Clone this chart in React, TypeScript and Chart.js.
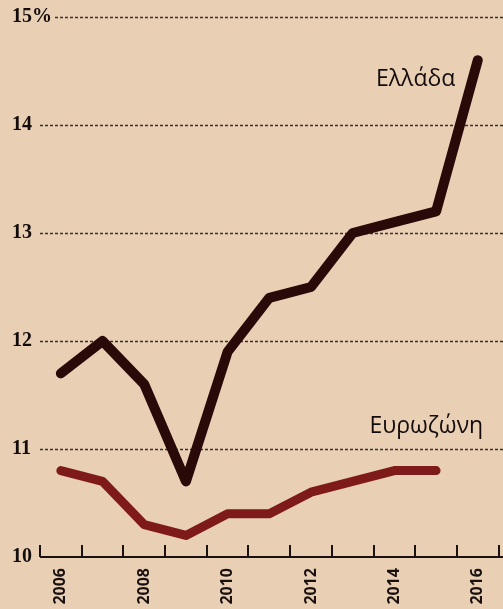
import React, { useEffect, useRef } from "react";
import { Chart, registerables } from "chart.js";

Chart.register(...registerables);

const years = ["2006", "2007", "2008", "2009", "2010", "2011", "2012", "2013", "2014", "2015", "2016"];
const greece = [11.7, 12.0, 11.6, 10.7, 11.9, 12.4, 12.5, 13.0, 13.1, 13.2, 14.6];
const eurozone = [10.8, 10.7, 10.3, 10.2, 10.4, 10.4, 10.6, 10.7, 10.8, 10.8, null];
const yTicks = [10, 11, 12, 13, 14, 15];
const greeceLabel = "Ελλάδα";
const eurozoneLabel = "Ευρωζώνη";

const BG = "#e9d0b5";

const decorPlugin = {
  id: "decor",
  beforeDatasetsDraw(chart: any) {
    const { ctx, chartArea, scales } = chart;
    const y = scales.y;
    ctx.save();
    ctx.strokeStyle = "#3b2f2c";
    ctx.lineWidth = 1.5;
    ctx.setLineDash([3, 2]);
    yTicks.forEach((v) => {
      if (v === 10) return;
      const py = Math.round(y.getPixelForValue(v)) + 0.5;
      const x0 = v === 15 ? chartArea.left + 15 : chartArea.left;
      ctx.beginPath();
      ctx.moveTo(x0, py);
      ctx.lineTo(chart.width, py);
      ctx.stroke();
    });
    ctx.restore();
  },
  afterDraw(chart: any) {
    const { ctx, chartArea, scales } = chart;
    const x = scales.x;
    const y = scales.y;
    ctx.save();
    ctx.strokeStyle = "#1a1010";
    ctx.lineWidth = 2;
    ctx.beginPath();
    ctx.moveTo(chartArea.left, chartArea.bottom);
    ctx.lineTo(chart.width, chartArea.bottom);
    ctx.stroke();
    for (let i = 0; i <= years.length; i++) {
      const px = Math.round(x.getPixelForValue(i - 0.5));
      ctx.beginPath();
      ctx.moveTo(px, chartArea.bottom);
      ctx.lineTo(px, chartArea.bottom - 12);
      ctx.stroke();
    }
    ctx.fillStyle = "#140c0c";
    ctx.font = "23px 'Open Sans', sans-serif";
    ctx.textAlign = "right";
    ctx.textBaseline = "middle";
    ctx.fillText(greeceLabel, x.getPixelForValue(9.46), y.getPixelForValue(14.42));
    ctx.fillText(eurozoneLabel, x.getPixelForValue(10.13), y.getPixelForValue(11.21));
    ctx.restore();
  },
};

export default function App() {
  const ref = useRef<HTMLCanvasElement | null>(null);
  useEffect(() => {
    if (!ref.current) return;
    const chart = new Chart(ref.current, {
      type: "line",
      data: {
        labels: years,
        datasets: [
          {
            label: eurozoneLabel,
            data: eurozone,
            borderColor: "#7e1a1a",
            borderWidth: 9,
            pointRadius: 0,
            borderCapStyle: "round",
            borderJoinStyle: "round",
            tension: 0,
            spanGaps: false,
          },
          {
            label: greeceLabel,
            data: greece,
            borderColor: "#2a0909",
            borderWidth: 10,
            pointRadius: 0,
            borderCapStyle: "round",
            borderJoinStyle: "round",
            tension: 0,
          },
        ],
      },
      options: {
        responsive: false,
        animation: false,
        layout: { padding: { left: 12, top: 17, right: 0, bottom: 0 } },
        plugins: {
          legend: { display: false },
          tooltip: { enabled: false },
        },
        scales: {
          x: {
            type: "category",
            offset: true,
            grid: { display: false, drawTicks: false },
            border: { display: false },
            ticks: {
              autoSkip: false,
              maxRotation: 90,
              minRotation: 90,
              padding: 11,
              color: "#1a1010",
              font: { family: "'Open Sans', sans-serif", weight: "bold", size: 16 },
              callback: (_v: any, i: number) => (i % 2 === 0 ? years[i] : ""),
            },
            afterFit: (scale: any) => {
              scale.height = 52;
            },
          },
          y: {
            min: 10,
            max: 15,
            grid: { display: false, drawTicks: false },
            border: { display: false },
            afterBuildTicks: (scale: any) => {
              scale.ticks = yTicks.map((v) => ({ value: v }));
            },
            ticks: {
              mirror: true,
              padding: -28,
              color: "#140c0c",
              font: { family: "'Liberation Serif', serif", weight: "bold", size: 20 },
              callback: (v: any) => (v === 15 ? "15%" : String(v)),
            },
            afterFit: (scale: any) => {
              scale.width = 28;
            },
          },
        },
      },
      plugins: [decorPlugin],
    });
    return () => chart.destroy();
  }, []);

  return (
    <div
      style={{
        position: "absolute",
        left: 0,
        top: 0,
        width: 503,
        height: 609,
        overflow: "hidden",
        background: BG,
      }}
    >
      <canvas ref={ref} width={508} height={609} style={{ width: 508, height: 609, display: "block" }} />
    </div>
  );
}
